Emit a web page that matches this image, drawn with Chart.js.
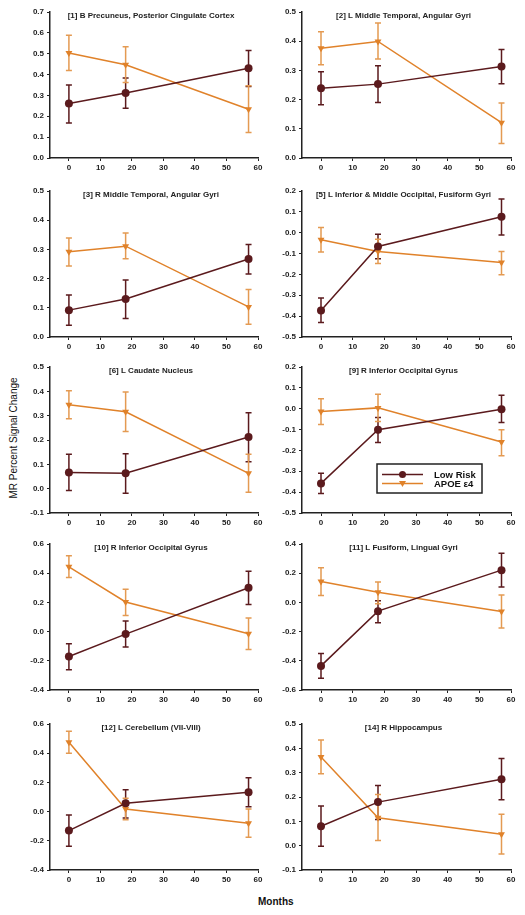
<!DOCTYPE html>
<html lang="en">
<head>
    <meta charset="UTF-8">
    <title>MR Percent Signal Change by Months</title>
    <script src="https://cdn.jsdelivr.net/npm/chart.js"></script>
    <style>
        body { margin: 0; background: #fff; }
        .page { position: relative; width: 525px; height: 915px; font-family: "Liberation Sans", Arial, sans-serif; }
        .page canvas { position: absolute; }
        .ylab {
            position: absolute; left: 13px; top: 438px;
            transform: translate(-50%, -50%) rotate(-90deg);
            font-size: 10px; white-space: nowrap; color: #111;
        }
        .xlab {
            position: absolute; left: 258px; top: 896px;
            font-size: 10px; font-weight: bold; color: #111;
        }
    </style>
</head>
<body>
<div class="page" id="page">
    <div class="ylab">MR Percent Signal Change</div>
    <div class="xlab">Months</div>
</div>
<script>
    // data
    const months = [0, 18, 57];
    const panelTitles = [
        '[1] B Precuneus, Posterior Cingulate Cortex',
        '[2] L Middle Temporal, Angular Gyri',
        '[3] R Middle Temporal, Angular Gyri',
        '[5] L Inferior & Middle Occipital, Fusiform Gyri',
        '[6] L Caudate Nucleus',
        '[9] R Inferior Occipital Gyrus',
        '[10] R Inferior Occipital Gyrus',
        '[11] L Fusiform, Lingual Gyri',
        '[12] L Cerebellum (VII-VIII)',
        '[14] R Hippocampus'
    ];
    const yMin  = [0.0, 0.0, 0.0, -0.5, -0.1, -0.5, -0.4, -0.6, -0.4, -0.1];
    const yMax  = [0.7, 0.5, 0.5,  0.2,  0.5,  0.2,  0.6,  0.4,  0.6,  0.5];
    const yStep = [0.1, 0.1, 0.1,  0.1,  0.1,  0.1,  0.2,  0.2,  0.2,  0.1];

    const lowRiskMean = [
        [0.261, 0.312, 0.430], [0.239, 0.253, 0.313], [0.092, 0.130, 0.267],
        [-0.373, -0.066, 0.077], [0.066, 0.063, 0.212], [-0.358, -0.101, -0.003],
        [-0.171, -0.017, 0.300], [-0.435, -0.060, 0.221], [-0.130, 0.057, 0.133],
        [0.080, 0.179, 0.273]
    ];
    const lowRiskHigh = [
        [0.350, 0.384, 0.516], [0.295, 0.316, 0.372], [0.144, 0.195, 0.317],
        [-0.313, -0.007, 0.162], [0.141, 0.144, 0.312], [-0.310, -0.042, 0.065],
        [-0.083, 0.072, 0.414], [-0.350, 0.012, 0.336], [-0.023, 0.150, 0.232],
        [0.163, 0.247, 0.358]
    ];
    const lowRiskLow = [
        [0.168, 0.238, 0.343], [0.182, 0.190, 0.254], [0.040, 0.063, 0.216],
        [-0.430, -0.125, -0.011], [-0.008, -0.019, 0.111], [-0.407, -0.162, -0.066],
        [-0.262, -0.106, 0.185], [-0.520, -0.140, 0.106], [-0.238, -0.044, 0.034],
        [-0.002, 0.108, 0.189]
    ];
    const apoeMean = [
        [0.503, 0.447, 0.234], [0.376, 0.399, 0.121], [0.292, 0.311, 0.103],
        [-0.034, -0.090, -0.143], [0.345, 0.316, 0.063], [-0.013, 0.004, -0.160],
        [0.444, 0.203, -0.015], [0.143, 0.070, -0.063], [0.475, 0.018, -0.080],
        [0.364, 0.115, 0.047]
    ];
    const apoeHigh = [
        [0.588, 0.533, 0.346], [0.432, 0.462, 0.188], [0.339, 0.356, 0.163],
        [0.025, -0.031, -0.090], [0.402, 0.397, 0.141], [0.048, 0.069, -0.101],
        [0.520, 0.290, 0.093], [0.237, 0.140, 0.050], [0.550, 0.092, 0.018],
        [0.434, 0.210, 0.129]
    ];
    const apoeLow = [
        [0.420, 0.362, 0.122], [0.319, 0.339, 0.050], [0.243, 0.268, 0.044],
        [-0.092, -0.148, -0.202], [0.287, 0.235, -0.015], [-0.076, -0.061, -0.225],
        [0.371, 0.111, -0.122], [0.047, -0.010, -0.175], [0.400, -0.055, -0.175],
        [0.296, 0.021, -0.034]
    ];
    const seriesNames = ['Low Risk', 'APOE \u03b54'];

    const MAROON = '#5b1a1d';
    const ORANGE = '#e0822a';
    const ORANGE_ERR = '#e49a52';
    const FONT = '"Liberation Sans", Arial, sans-serif';

    // chart area of each panel on the page
    const colLeft = [50, 302];
    const colWidth = [208, 209];
    const rowTop = [12, 191, 367, 544, 724];
    const plotH = 146;

    function drawTri(ctx, x, y, r) {
        ctx.beginPath();
        ctx.moveTo(x - r, y - r * 0.7);
        ctx.lineTo(x + r, y - r * 0.7);
        ctx.lineTo(x, y + r);
        ctx.closePath();
        ctx.fill();
    }

    const errorBars = {
        id: 'errorBars',
        beforeDatasetsDraw(chart) {
            const ctx = chart.ctx, xs = chart.scales.x, ys = chart.scales.y;
            ctx.save();
            chart.data.datasets.forEach(ds => {
                ctx.strokeStyle = ds.errColor;
                ctx.lineWidth = 1.5;
                ds.data.forEach((p, i) => {
                    const px = xs.getPixelForValue(p.x);
                    const t = ys.getPixelForValue(ds.errHigh[i]);
                    const b = ys.getPixelForValue(ds.errLow[i]);
                    ctx.beginPath();
                    ctx.moveTo(px, t); ctx.lineTo(px, b);
                    ctx.moveTo(px - 3, t); ctx.lineTo(px + 3, t);
                    ctx.moveTo(px - 3, b); ctx.lineTo(px + 3, b);
                    ctx.stroke();
                });
            });
            ctx.restore();
        }
    };

    const panelTitle = {
        id: 'panelTitle',
        afterDraw(chart, args, opts) {
            const ctx = chart.ctx, a = chart.chartArea;
            ctx.save();
            ctx.font = 'bold 8px ' + FONT;
            ctx.fillStyle = '#222';
            ctx.textAlign = 'center';
            ctx.textBaseline = 'middle';
            ctx.fillText(opts.text, (a.left + a.right) / 2 - 3, a.top + 3.5);
            if (opts.legend) {
                const bx = a.left + 75, by = a.top + 97, bw = 105, bh = 29;
                ctx.fillStyle = '#fff';
                ctx.fillRect(bx, by, bw, bh);
                ctx.strokeStyle = '#222';
                ctx.lineWidth = 1.5;
                ctx.strokeRect(bx, by, bw, bh);
                const rows = [by + 10.5, by + 19.5];
                const cols = [MAROON, ORANGE];
                rows.forEach((ry, k) => {
                    ctx.strokeStyle = cols[k];
                    ctx.fillStyle = cols[k];
                    ctx.lineWidth = 1.5;
                    ctx.beginPath();
                    ctx.moveTo(bx + 5, ry); ctx.lineTo(bx + 46, ry);
                    ctx.stroke();
                    if (k === 0) {
                        ctx.beginPath();
                        ctx.arc(bx + 25.5, ry, 3.5, 0, Math.PI * 2);
                        ctx.fill();
                    } else {
                        drawTri(ctx, bx + 25.5, ry, 3.5);
                    }
                    ctx.fillStyle = '#111';
                    ctx.font = 'bold 9.5px ' + FONT;
                    ctx.textAlign = 'left';
                    ctx.fillText(seriesNames[k], bx + 57, ry + 0.5);
                });
            }
            ctx.restore();
        }
    };

    const page = document.getElementById('page');

    panelTitles.forEach((title, i) => {
        const col = i % 2, row = Math.floor(i / 2);
        const cv = document.createElement('canvas');
        const w = colWidth[col] + 50 + 16, h = plotH + 10 + 24;
        cv.width = w; cv.height = h;
        cv.style.left = (colLeft[col] - 50) + 'px';
        cv.style.top = (rowTop[row] - 10) + 'px';
        cv.style.width = w + 'px'; cv.style.height = h + 'px';
        page.appendChild(cv);

        const pts = vals => months.map((m, k) => ({ x: m, y: vals[k] }));

        new Chart(cv.getContext('2d'), {
            type: 'line',
            data: {
                datasets: [{
                    label: seriesNames[0],
                    data: pts(lowRiskMean[i]),
                    errHigh: lowRiskHigh[i], errLow: lowRiskLow[i], errColor: MAROON,
                    borderColor: MAROON, backgroundColor: MAROON,
                    borderWidth: 1.5, pointStyle: 'circle', pointRadius: 4,
                    pointBorderWidth: 0, tension: 0, clip: false
                }, {
                    label: seriesNames[1],
                    data: pts(apoeMean[i]),
                    errHigh: apoeHigh[i], errLow: apoeLow[i], errColor: ORANGE_ERR,
                    borderColor: ORANGE, backgroundColor: ORANGE,
                    borderWidth: 1.5, pointStyle: 'triangle', rotation: 180, pointRadius: 4,
                    pointBorderWidth: 0, tension: 0, clip: false
                }]
            },
            options: {
                responsive: false,
                animation: false,
                devicePixelRatio: 1,
                layout: { padding: { top: 10, right: 16, left: 0, bottom: 0 } },
                plugins: {
                    legend: { display: false },
                    tooltip: { enabled: false },
                    panelTitle: { text: title, legend: i === 5 }
                },
                scales: {
                    x: {
                        type: 'linear',
                        min: -6, max: 60,
                        afterFit: s => { s.height = 24; },
                        afterBuildTicks: s => { s.ticks = s.ticks.filter(t => t.value >= 0 && t.value % 10 === 0); },
                        ticks: { stepSize: 10, color: '#222', font: { family: FONT, size: 8, weight: 'bold' }, padding: 2, maxRotation: 0 },
                        grid: { drawOnChartArea: false, drawTicks: true, tickLength: 3, color: '#222', lineWidth: 1 },
                        border: { display: true, color: '#222', width: 1.5 }
                    },
                    y: {
                        min: yMin[i], max: yMax[i],
                        afterFit: s => { s.width = 50; },
                        ticks: {
                            stepSize: yStep[i], color: '#222', padding: 3,
                            font: { family: FONT, size: 8, weight: 'bold' },
                            callback: v => (Math.abs(v) < 1e-9 ? 0 : v).toFixed(1)
                        },
                        grid: { drawOnChartArea: false, drawTicks: true, tickLength: 3, color: '#222', lineWidth: 1 },
                        border: { display: true, color: '#222', width: 1.5 }
                    }
                }
            },
            plugins: [errorBars, panelTitle]
        });
    });
</script>
</body>
</html>
